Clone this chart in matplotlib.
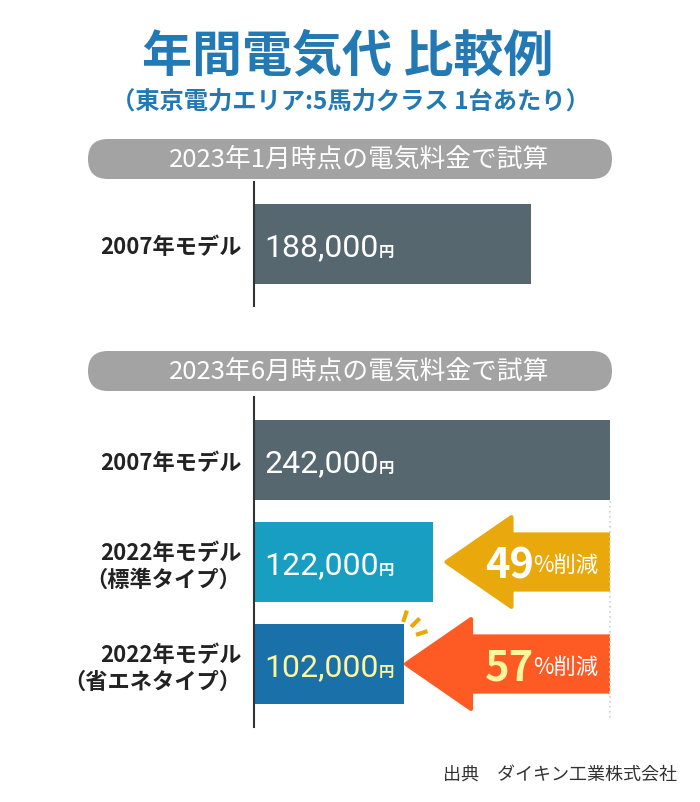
import matplotlib.pyplot as plt
import numpy as np
from matplotlib.patches import FancyBboxPatch, Polygon

plt.rcParams['font.family'] = ['Noto Sans CJK JP', 'DejaVu Sans']

title = '年間電気代 比較例'
subtitle = '（東京電力エリア:5馬力クラス 1台あたり）'
section_titles = ['2023年1月時点の電気料金で試算', '2023年6月時点の電気料金で試算']

jan_labels = ['2007年モデル']
jan_values = [188000]

jun_labels = ['2007年モデル', '2022年モデル\n（標準タイプ）', '2022年モデル\n（省エネタイプ）']
jun_values = [242000, 122000, 102000]

cut_pcts = ['49', '57']
source = '出典　ダイキン工業株式会社'

W, H = 700, 803
fig = plt.figure(figsize=(W / 100, H / 100), dpi=100)
fig.patch.set_facecolor('white')

# full-figure pixel overlay for headings / pills
bg = fig.add_axes([0, 0, 1, 1])
bg.set_xlim(0, W)
bg.set_ylim(H, 0)
bg.axis('off')

bg.text(348, 57, title, ha='center', va='center', fontsize=36, fontweight='bold', color='#2279b3')
bg.text(350, 102, subtitle, ha='center', va='center', fontsize=17.5, fontweight='bold', color='#2279b3')

for yc, txt in zip([160, 372], section_titles):
    bg.add_patch(FancyBboxPatch((88, yc - 20), 524, 40, boxstyle='round,pad=0,rounding_size=20',
                                fc='#a3a3a3', ec='none'))
    bg.text(359, yc, txt, ha='center', va='center', fontsize=18.5, color='white')

bg.text(677, 775, source, ha='right', va='center', fontsize=13, color='#333333')

# little sparkle marks next to the 102k bar
for ang in [72, 45, 18]:
    a = np.deg2rad(ang)
    cx, cy = 397, 642
    bg.plot([cx + 20 * np.cos(a), cx + 32 * np.cos(a)], [cy - 20 * np.sin(a), cy - 32 * np.sin(a)],
            color='#e8a80a', lw=3, solid_capstyle='butt')

vmax = max(jun_values)
x0, x1 = 254, 610


def bar_axes(top, bottom, n):
    ax = fig.add_axes([x0 / W, 1 - bottom / H, (x1 - x0) / W, (bottom - top) / H])
    ax.set_facecolor('none')
    ax.set_xlim(0, vmax)
    ax.set_ylim(n - 0.5, -0.5)
    for s in ['top', 'right', 'bottom']:
        ax.spines[s].set_visible(False)
    ax.spines['left'].set_color('#333333')
    ax.spines['left'].set_linewidth(1.5)
    ax.spines['left'].set_bounds(n - 0.38, -0.62)
    ax.set_xticks([])
    ax.tick_params(axis='y', length=0, pad=9)
    return ax


def value_label(ax, i, v, color):
    t = ax.text(vmax * 0.03, i + 0.03, f'{v:,}', ha='left', va='center', fontsize=23,
                family=['Roboto', 'Noto Sans CJK JP'], color=color)
    ax.annotate('円', xy=(1, 0.1), xycoords=t, xytext=(-0.5, 0), textcoords='offset points',
                ha='left', va='bottom', fontsize=11, fontweight='bold', color=color)


# January
ax1 = bar_axes(195, 295, 1)
ax1.barh(range(len(jan_values)), jan_values, height=0.8, color='#56676f')
ax1.set_yticks(range(len(jan_labels)), jan_labels, fontsize=16, fontweight='bold', color='#222222')
for i, v in enumerate(jan_values):
    value_label(ax1, i, v, 'white')

# June
ax2 = bar_axes(410, 716, 3)
colors = ['#56676f', '#179ec1', '#1a70a9']
ax2.barh(range(len(jun_values)), jun_values, height=0.78, color=colors)
ax2.set_yticks(range(len(jun_labels)), jun_labels, fontsize=16, fontweight='bold', color='#222222')
for lab in ax2.get_yticklabels():
    lab.set_multialignment('right')
ax2.plot([vmax, vmax], [0.4, 2.55], ls=(0, (1, 2)), color='#d0d0d0', lw=1.2, clip_on=False)
txt_cols = ['white', 'white', '#fff59d']
for i, v in enumerate(jun_values):
    value_label(ax2, i, v, txt_cols[i])

# reduction arrows
px = vmax / (x1 - x0)
arrow_cols = ['#e9a80b', '#fe5a24']
num_cols = ['white', '#fff59d']
gaps = [13, 2]
for k, i in enumerate([1, 2]):
    tip = jun_values[i] + gaps[k] * px
    neck = tip + 65 * px
    right = vmax
    hh, sh = 0.44, 0.27
    pts = [(tip, i), (neck, i - hh), (neck, i - sh), (right, i - sh),
           (right, i + sh), (neck, i + sh), (neck, i + hh)]
    ax2.add_patch(Polygon(pts, closed=True, fc=arrow_cols[k], ec=arrow_cols[k], lw=3, joinstyle='round'))
    ax2.text(right - 12 * px, i + 0.02, '%削減', ha='right', va='center', fontsize=16, color='white')
    ax2.text(right - 76 * px, i + 0.03, cut_pcts[k], ha='right', va='center', fontsize=30,
             fontweight='bold', family=['Noto Sans CJK JP'], color=num_cols[k])

fig.savefig('out.png', dpi=100)
